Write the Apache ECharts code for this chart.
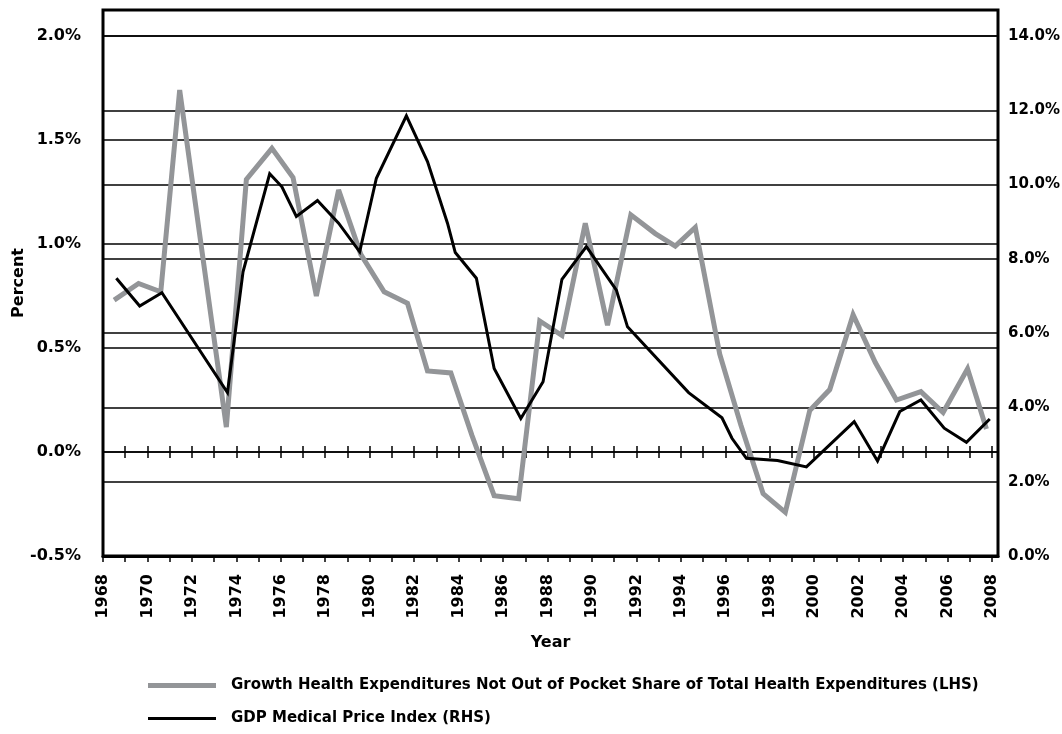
<!DOCTYPE html>
<html>
<head>
<meta charset="utf-8">
<script src="https://cdn.jsdelivr.net/npm/echarts@6/dist/echarts.min.js"></script>
<style>
  html, body { margin: 0; padding: 0; background: #fff; }
  #chart { width: 1062px; height: 734px; }
</style>
</head>
<body>
<div id="chart"></div>
<script>
// grey series (LHS), x positions in years
var greyYears = [1968.5, 1969.6, 1970.6, 1971.45, 1973.55, 1974.45, 1975.6, 1976.55, 1977.6, 1978.6,
    1979.6, 1980.65, 1981.7, 1982.6, 1983.65, 1984.6, 1985.6, 1986.7, 1987.65, 1988.65,
    1989.7, 1990.7, 1991.75, 1992.85, 1993.75, 1994.65, 1995.75, 1996.7, 1997.7, 1998.7,
    1999.8, 2000.7, 2001.75, 2002.75, 2003.7, 2004.8, 2005.8, 2006.9, 2007.75]
var greyValues = [0.73, 0.81, 0.77, 1.74, 0.12, 1.31, 1.46, 1.32, 0.75, 1.26,
    0.95, 0.77, 0.715, 0.39, 0.38, 0.08, -0.21, -0.225, 0.63, 0.56,
    1.10, 0.61, 1.14, 1.05, 0.99, 1.08, 0.47, 0.13, -0.20, -0.29,
    0.20, 0.30, 0.66, 0.43, 0.25, 0.29, 0.19, 0.40, 0.11]

// black series (RHS)
var blackYears = [1968.6, 1969.65, 1970.65, 1973.6, 1974.3, 1975.5, 1976.05, 1976.7, 1977.65, 1978.6,
    1979.55, 1980.3, 1981.65, 1982.6, 1983.5, 1983.85, 1984.8, 1985.6, 1986.8, 1987.8,
    1988.65, 1989.75, 1991.1, 1991.6, 1994.35, 1995.85, 1996.3, 1996.95, 1998.35, 1999.65,
    2001.8, 2002.85, 2003.85, 2004.8, 2005.85, 2006.85, 2007.9]
var blackValues = [7.48, 6.73, 7.09, 4.4, 7.65, 10.29, 9.94, 9.14, 9.57, 8.96,
    8.19, 10.17, 11.85, 10.62, 8.96, 8.17, 7.48, 5.05, 3.7, 4.69,
    7.45, 8.33, 7.16, 6.17, 4.40, 3.72, 3.17, 2.63, 2.57, 2.40,
    3.62, 2.56, 3.89, 4.20, 3.44, 3.06, 3.69]

var seriesNames = [
    'Growth Health Expenditures Not Out of Pocket Share of Total Health Expenditures (LHS)',
    'GDP Medical Price Index (RHS)'
]

function pairs(xs, ys) {
    return xs.map(function (x, i) { return [x, ys[i]] })
}

var chart = echarts.init(document.getElementById('chart'))
var font = '"DejaVu Sans", "Liberation Sans", Arial, sans-serif'

var xBase = {
    type: 'value',
    min: 1968,
    max: 2008.27,
    interval: 1,
    splitLine: { show: false }
}

chart.setOption({
    animation: false,
    backgroundColor: '#fff',
    grid: {
        left: 103,
        right: 64,
        top: 10,
        bottom: 178,
        outerBoundsMode: 'none',
        containLabel: false,
        show: true,
        borderColor: '#000',
        borderWidth: 3
    },
    legend: {
        orient: 'vertical',
        left: 143,
        top: 673,
        itemWidth: 68,
        itemHeight: 14,
        itemGap: 18,
        textStyle: {
            fontFamily: font,
            fontWeight: 'bold',
            fontSize: 15,
            color: '#000',
            padding: [0, 0, 0, 10]
        },
        data: [
            { name: seriesNames[0], icon: 'path://M0,0h68v5h-68z' },
            { name: seriesNames[1], icon: 'path://M0,0h68v3h-68z' }
        ]
    },
    xAxis: [
        // bottom axis with the year labels
        Object.assign({}, xBase, {
            position: 'bottom',
            name: 'Year',
            nameLocation: 'middle',
            nameGap: 79,
            nameTextStyle: { fontFamily: font, fontWeight: 'bold', fontSize: 16, color: '#000' },
            axisLine: { onZero: false, lineStyle: { color: '#000', width: 3 } },
            axisTick: { show: true, length: 6, lineStyle: { color: '#000', width: 1.5 } },
            axisLabel: {
                rotate: 90,
                margin: 18,
                fontFamily: font,
                fontWeight: 'bold',
                fontSize: 16,
                color: '#000',
                showMaxLabel: false,
                formatter: function (v) {
                    return (Math.abs(v - Math.round(v)) < 1e-6 && Math.round(v) % 2 === 0) ? String(Math.round(v)) : ''
                }
            }
        }),
        // zero line, ticks pointing up
        Object.assign({}, xBase, {
            position: 'bottom',
            axisLine: { show: true, onZero: true, onZeroAxisIndex: 0, lineStyle: { color: '#000', width: 1.5 } },
            axisTick: { show: true, inside: true, length: 6, lineStyle: { color: '#000', width: 1.5 } },
            axisLabel: { show: false }
        }),
        // zero line, ticks pointing down
        Object.assign({}, xBase, {
            position: 'bottom',
            axisLine: { show: false, onZero: true, onZeroAxisIndex: 0 },
            axisTick: { show: true, inside: false, length: 6, lineStyle: { color: '#000', width: 1.5 } },
            axisLabel: { show: false }
        })
    ],
    yAxis: [
        {
            type: 'value',
            min: -0.5,
            max: 2.125,
            interval: 0.5,
            position: 'left',
            name: 'Percent',
            nameLocation: 'middle',
            nameRotate: 90,
            nameGap: 76,
            nameMoveOverlap: false,
            nameTextStyle: { fontFamily: font, fontWeight: 'bold', fontSize: 16, color: '#000' },
            axisLine: { show: false },
            axisTick: { show: false },
            splitLine: { show: true, lineStyle: { color: '#000', width: 1.5 } },
            axisLabel: {
                margin: 22,
                fontFamily: font,
                fontWeight: 'bold',
                fontSize: 16,
                color: '#000',
                formatter: function (v) {
                    return Math.abs(v * 2 - Math.round(v * 2)) < 1e-6 ? v.toFixed(1) + '%' : ''
                }
            }
        },
        {
            type: 'value',
            min: 0,
            max: 14.7,
            interval: 2,
            position: 'right',
            axisLine: { show: false },
            axisTick: { show: false },
            splitLine: { show: true, lineStyle: { color: '#000', width: 1.5 } },
            axisLabel: {
                margin: 10,
                fontFamily: font,
                fontWeight: 'bold',
                fontSize: 15,
                color: '#000',
                formatter: function (v) {
                    return Math.abs(v / 2 - Math.round(v / 2)) < 1e-6 ? v.toFixed(1) + '%' : ''
                }
            }
        }
    ],
    series: [
        {
            name: seriesNames[0],
            type: 'line',
            xAxisIndex: 0,
            yAxisIndex: 0,
            symbol: 'none',
            smooth: false,
            z: 3,
            itemStyle: { color: '#939598' },
            lineStyle: { color: '#939598', width: 5, join: 'miter', miterLimit: 3 },
            data: pairs(greyYears, greyValues)
        },
        {
            name: seriesNames[1],
            type: 'line',
            xAxisIndex: 0,
            yAxisIndex: 1,
            symbol: 'none',
            smooth: false,
            z: 4,
            itemStyle: { color: '#000' },
            lineStyle: { color: '#000', width: 3, join: 'miter', miterLimit: 3 },
            data: pairs(blackYears, blackValues)
        }
    ]
})
</script>
</body>
</html>
